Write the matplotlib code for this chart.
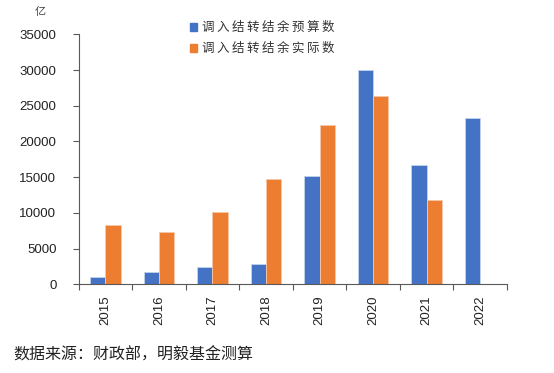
import numpy as np
import matplotlib
matplotlib.use("Agg")
import matplotlib.pyplot as plt
from matplotlib.patches import Rectangle

plt.rcParams['font.family'] = ['Liberation Sans', 'Noto Sans CJK SC', 'DejaVu Sans']

# data (亿元)
years = ["2015", "2016", "2017", "2018", "2019", "2020", "2021", "2022"]
budget = [1000, 1700, 2400, 2800, 15150, 29950, 16750, 23250]
actual = [8250, 7300, 10100, 14800, 22250, 26300, 11800, np.nan]
labels = ["调入结转结余预算数", "调入结转结余实际数"]
colors = ["#4472C4", "#ED7D31"]

fig = plt.figure(figsize=(5.54, 3.73), dpi=100)
ax = fig.add_axes([0.142, 0.238, 0.773, 0.670])

x = np.arange(len(years))
w = 0.285
ax.bar(x - w / 2, budget, width=w, color=colors[0], edgecolor="#c5d3ee", linewidth=0.6)
ax.bar(x + w / 2, actual, width=w, color=colors[1], edgecolor="#f6c7a8", linewidth=0.6)

ax.set_xlim(-0.5, len(years) - 0.5)
ax.set_ylim(0, 35000)
ax.set_yticks(np.arange(0, 35001, 5000))
ax.set_yticklabels([str(v) for v in range(0, 35001, 5000)], fontsize=9.5, color="#222222")

ax.set_xticks(x)
ax.set_xticklabels(years, rotation=90, fontsize=9.5, color="#222222")
ax.set_xticks(np.arange(-0.5, len(years)), minor=True)
ax.tick_params(axis="x", which="major", length=0, pad=8)
ax.tick_params(axis="x", which="minor", length=4, direction="out", color="#595959", width=0.8)
ax.tick_params(axis="y", length=4, direction="out", color="#595959", width=0.8, pad=12)

for s in ["top", "right"]:
    ax.spines[s].set_visible(False)
for s in ["left", "bottom"]:
    ax.spines[s].set_color("#595959")
    ax.spines[s].set_linewidth(0.8)

# legend drawn by hand (spaced characters)
cjk = ['Noto Sans CJK SC', 'DejaVu Sans']
for i, (lab, c) in enumerate(zip(labels, colors)):
    y = 1 - (27 + 21 * i) / 373
    fig.patches.append(Rectangle((190 / 554, y - 3.5 / 373), 7 / 554, 7 / 373,
                                 transform=fig.transFigure, color=c))
    fig.text(202 / 554, y, "\u2009".join(lab), family=cjk, fontsize=9,
             va="center", ha="left", color="#333333", fontweight="light")

fig.text(40 / 554, 1 - 12 / 373, "亿", family=cjk, fontsize=8, ha="center",
         va="center", color="#444444", fontweight="light")
fig.text(13 / 554, 1 - 355 / 373, "数据来源：财政部，明毅基金测算", family=cjk,
         fontsize=11.5, ha="left", va="center", color="#222222")

fig.savefig("out.png", dpi=100)
